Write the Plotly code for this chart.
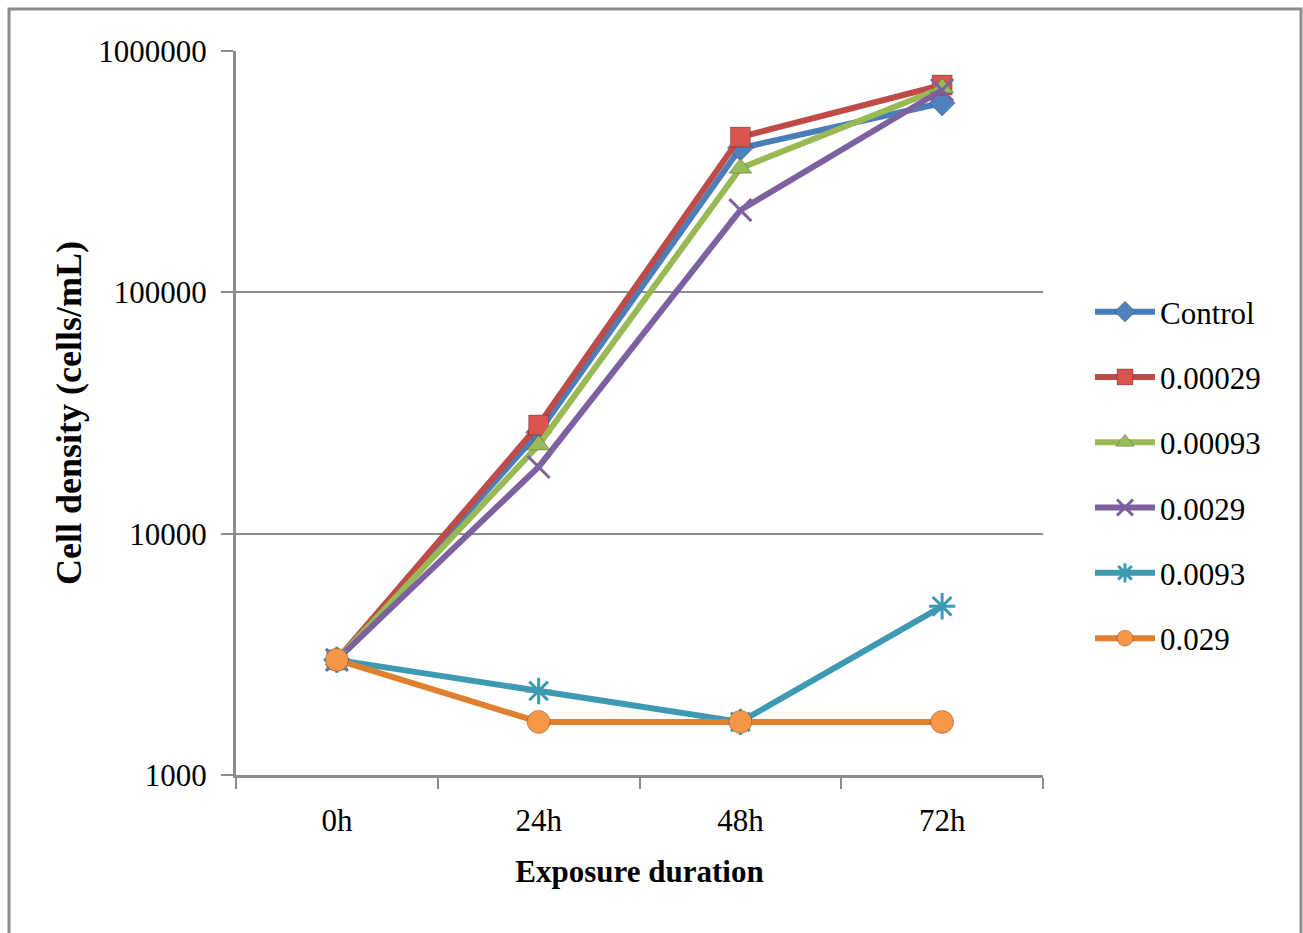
import plotly.graph_objects as go

categories = ["0h", "24h", "48h", "72h"]
series_names = ["Control", "0.00029", "0.00093", "0.0029", "0.0093", "0.029"]
control = [3000, 26300, 396000, 609000]
c00029 = [3000, 28200, 440000, 723000]
c00093 = [3000, 23300, 327000, 703000]
c0029 = [3000, 18900, 219000, 689000]
c0093 = [3000, 2230, 1660, 5000]
c029 = [3000, 1660, 1660, 1660]
y_tickvals = [1000, 10000, 100000, 1000000]
y_ticktext = ["1000", "10000", "100000", "1000000"]

values = [control, c00029, c00093, c0029, c0093, c029]
line_colors = ["#4A7EBB", "#BE4B48", "#98B954", "#7D60A0", "#3E9AB3", "#E0802F"]
marker_colors = ["#4F81BD", "#D9534F", "#9BBB59", "#7D60A0", "#4BACC6", "#F79646"]
symbols = ["diamond", "square", "triangle-up", "x-thin", "asterisk", "circle"]
sizes = [20, 20, 20, 22, 22, 23]

FONT = "Liberation Serif"

# plot area in page pixels
L, R, T, B = 236, 1043, 51, 775
PW, PH = R - L, B - T

fig = go.Figure()
for i, (name, vals) in enumerate(zip(series_names, values)):
    sym = symbols[i]
    thin = sym in ("x-thin", "asterisk")
    fig.add_trace(go.Scatter(
        x=categories, y=vals, name=name, mode="lines+markers",
        legendgroup=name,
        line=dict(color=line_colors[i], width=6),
        marker=dict(symbol=sym, size=sizes[i], color=marker_colors[i],
                    line=dict(color=line_colors[i] if thin else "rgba(0,0,0,0.25)",
                              width=3 if thin else 1)),
    ))

fig.update_layout(
    width=1303, height=933,
    margin=dict(l=L, r=1303 - R, t=T, b=933 - B),
    paper_bgcolor="white", plot_bgcolor="white",
    font=dict(family=FONT, size=31, color="black"),
    showlegend=True,
    legend=dict(x=(1090 - L) / PW, y=1 - (285 - T) / PH, xanchor="left", yanchor="top",
                font=dict(family=FONT, size=31, color="black"),
                itemwidth=60,
                tracegroupgap=22, bgcolor="rgba(0,0,0,0)"),
    shapes=[dict(type="rect", xref="paper", yref="paper",
                 x0=(9 - L) / PW, x1=(1301 - L) / PW,
                 y0=-(945 - B) / PH, y1=1 + (T - 9) / PH,
                 line=dict(color="#8C8C8C", width=3))],
)
fig.update_xaxes(
    type="category", range=[-0.5, 3.5], tickson="boundaries",
    ticks="outside", ticklen=11, tickwidth=2, tickcolor="#8C8C8C",
    showline=True, linecolor="#8C8C8C", linewidth=3, showgrid=False,
    tickfont=dict(family=FONT, size=31), ticklabelstandoff=16,
    title=dict(text="<b>Exposure duration</b>", font=dict(family=FONT, size=31), standoff=24),
)
fig.update_yaxes(
    type="log", range=[3, 6], tickvals=y_tickvals, ticktext=y_ticktext,
    ticks="outside", ticklen=12, tickwidth=2, tickcolor="#8C8C8C",
    showline=True, linecolor="#8C8C8C", linewidth=3,
    showgrid=True, gridcolor="#8C8C8C", gridwidth=2,
    tickfont=dict(family=FONT, size=31), ticklabelstandoff=8,
    title=dict(text="<b>Cell density (cells/mL)</b>", font=dict(family=FONT, size=36), standoff=6),
)

fig.write_html("out.html",
               config={"displayModeBar": False},
               post_script="document.body.style.margin='0px';document.body.style.overflow='hidden';")
